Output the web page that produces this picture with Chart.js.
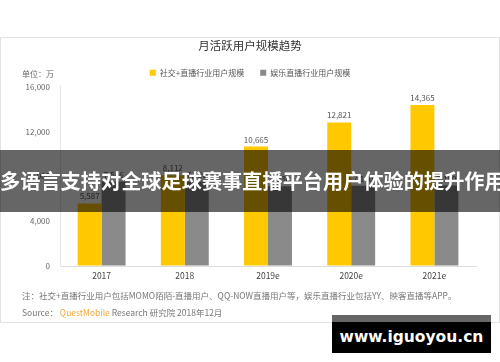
<!DOCTYPE html>
<html>
<head>
<meta charset="utf-8">
<script src="https://cdn.jsdelivr.net/npm/chart.js@4"></script>
<style>
  html, body { margin: 0; padding: 0; background: #fff; }
  body { width: 500px; height: 362px; position: relative; overflow: hidden; font-family: "Noto Sans CJK SC", sans-serif; }
  #frame { position: absolute; left: 0; top: 37px; width: 498px; height: 284px; border: 1px solid #e2e2e2; }
  #wrap { position: absolute; left: 0; top: 0; width: 500px; height: 362px; }
  #unit { position: absolute; left: 22px; top: 68px; font-size: 8px; color: #666; }
  .note { position: absolute; left: 22px; font-size: 8.5px; color: #777; white-space: nowrap; }
  #note1 { top: 289px; }
  #note2 { top: 306px; }
  #note2 .qm { color: #f2a83a; }
  #banner { position: absolute; left: 0; top: 150px; width: 500px; height: 62px; background: rgba(0,0,0,0.6); color: #fff; font-weight: bold; font-size: 20.2px; line-height: 62px; text-align: center; white-space: nowrap; }
  #wm { position: absolute; left: 332px; top: 315px; width: 159px; height: 38px; background: #000; }
  #wm .strip { position: absolute; left: 0; top: 0; width: 159px; height: 7px; background: #666; }
  #wm .txt { position: absolute; left: 0; top: 7px; width: 159px; height: 31px; line-height: 31px; text-align: center; color: #fff; font-family: "DejaVu Sans", sans-serif; font-weight: bold; font-size: 15.5px; }
</style>
</head>
<body>
<div id="frame"></div>
<div id="wrap"><canvas id="c" width="500" height="362"></canvas></div>
<div id="unit">单位：万</div>
<div class="note" id="note1">注：社交+直播行业用户包括MOMO陌陌-直播用户、QQ-NOW直播用户等，娱乐直播行业包括YY、映客直播等APP。</div>
<div class="note" id="note2">Source： <span class="qm">QuestMobile</span> Research 研究院 2018年12月</div>
<div id="banner">多语言支持对全球足球赛事直播平台用户体验的提升作用</div>
<div id="wm"><div class="strip"></div><div class="txt">www.iguoyou.cn</div></div>
<script>
const categories = ["2017", "2018", "2019e", "2020e", "2021e"];
const socialLive = [5587, 8112, 10665, 12821, 14365];
const entLive = [7546, 7520, 7130, 7160, 7180];
const yTicks = [0, 4000, 8000, 12000, 16000];
const seriesNames = ["社交+直播行业用户规模", "娱乐直播行业用户规模"];
const chartTitle = "月活跃用户规模趋势";

const fontFam = '"Noto Sans CJK SC", sans-serif';

const valueLabels = {
  id: 'valueLabels',
  afterDatasetsDraw(chart) {
    const ctx = chart.ctx;
    ctx.save();
    ctx.font = '8px ' + fontFam;
    ctx.fillStyle = '#555';
    ctx.textAlign = 'center';
    ctx.textBaseline = 'bottom';
    chart.data.datasets.forEach((ds, i) => {
      const meta = chart.getDatasetMeta(i);
      meta.data.forEach((bar, j) => {
        ctx.fillText(ds.data[j].toLocaleString('en-US'), bar.x, bar.y - 3);
      });
    });
    ctx.restore();
  }
};

new Chart(document.getElementById('c'), {
  type: 'bar',
  data: {
    labels: categories,
    datasets: [
      { label: seriesNames[0], data: socialLive, backgroundColor: '#FFC800', barPercentage: 1, categoryPercentage: 0.576 },
      { label: seriesNames[1], data: entLive, backgroundColor: '#8A8A8A', barPercentage: 1, categoryPercentage: 0.576 }
    ]
  },
  options: {
    responsive: false,
    animation: false,
    layout: { padding: { left: 24, right: 24, top: 0, bottom: 81 } },
    plugins: {
      title: {
        display: true,
        text: chartTitle,
        color: '#333',
        font: { family: fontFam, size: 11.5, weight: 'normal', lineHeight: 1.2 },
        padding: { top: 39, bottom: 0 }
      },
      legend: {
        display: true,
        labels: {
          boxWidth: 6, boxHeight: 6, padding: 16,
          color: '#555',
          font: { family: fontFam, size: 8 }
        }
      },
      tooltip: { enabled: false }
    },
    scales: {
      x: {
        grid: { color: 'rgba(0,0,0,0)', drawTicks: false },
        border: { display: true, color: '#ddd', width: 1 },
        ticks: { color: '#444', font: { family: fontFam, size: 8.5 }, padding: 5 },
        afterFit: s => { s.height = 15; }
      },
      y: {
        min: 0, max: 16000,
        afterBuildTicks: s => { s.ticks = yTicks.map(v => ({ value: v })); },
        grid: { color: 'rgba(0,0,0,0)', drawTicks: false },
        border: { display: true, color: '#e6e6e6', width: 1 },
        ticks: { color: '#666', font: { family: fontFam, size: 8 }, padding: 10,
                 callback: v => v.toLocaleString('en-US') },
        afterFit: s => { s.width = 36; }
      }
    }
  },
  plugins: [valueLabels]
});
</script>
</body>
</html>
